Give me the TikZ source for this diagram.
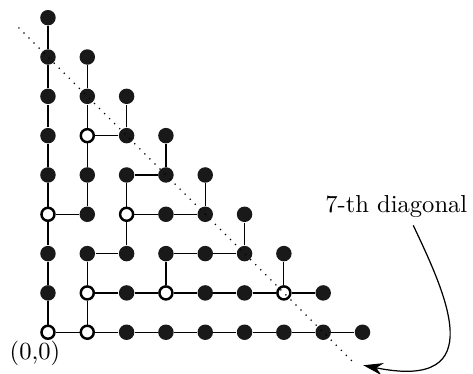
\documentclass[tikz,border=0pt]{standalone}
\usepackage{tikz}
\usetikzlibrary{arrows.meta}
\tikzset{
  dot/.style={circle, fill=black!90, inner sep=0pt, minimum size=6.3pt},
  hollow/.style={circle, draw=black, fill=white, line width=1pt, inner sep=0pt, minimum size=5.3pt},
  pt00/.style={hollow}, pt10/.style={hollow}, pt11/.style={hollow}, pt31/.style={hollow},
  pt61/.style={hollow}, pt03/.style={hollow}, pt23/.style={hollow}, pt15/.style={hollow},
  edge/.style={line width=0.5pt}
}

\begin{document}
\begin{tikzpicture}[x=0.5625cm, y=0.5625cm]
		%%%%% START %%%%%
		\useasboundingbox (-1.22, -1.04) rectangle (10.81, 8.45);
		
		\foreach \i in {0,...,8} {
			\foreach \j in {0,...,8} {
				\pgfmathtruncatemacro\s{\i+\j}
				\ifnum\s<9
					\node[dot, pt\i\j/.try] (p\i\j) at (\i, \j) {};
				\fi
			}
		}
		
		\draw[edge] (p00) -- (p01) -- (p02) -- (p03) -- (p04) -- (p05) -- (p06) -- (p07) -- (p08);
		\draw[edge] (p00) -- (p10) -- (p20) -- (p30) -- (p40) -- (p50) -- (p60) -- (p70) -- (p80);
		\draw[edge] (p03) -- (p13) -- (p14) -- (p15) -- (p16) -- (p17);
		\draw[edge] (p10) -- (p11) -- (p12) -- (p22) -- (p23) -- (p33) -- (p43) -- (p44);
		\draw[edge] (p23) -- (p24) -- (p34) -- (p35);
		\draw[edge] (p15) -- (p25) -- (p26);
		\draw[edge] (p11) -- (p21) -- (p31) -- (p41) -- (p51) -- (p61) -- (p71);
		\draw[edge] (p31) -- (p32) -- (p42) -- (p52) -- (p53);
		\draw[edge] (p61) -- (p62);
		
		\coordinate (d1) at (-0.75, 7.75);
		\coordinate (d2) at (7.75, -0.75);
		\draw[black, line width=0.5pt, dash pattern=on 0.5pt off 2.4pt] (d1) -- (d2);
		
		\node (origin) at (-0.33, -0.53) {(0,0)};
		\node (diag) at (8.86, 3.21) {7-th diagonal};
		
		\coordinate (tail) at (9.29, 2.72);
		\coordinate (head) at (8.02, -0.84);
		\draw[line width=0.5pt, -{Stealth[length=8pt, width=5pt]}] (tail) .. controls (10.1, 1.0) and (11.3, -1.5) .. (head);
		%%%%% END %%%%%
\end{tikzpicture}
\end{document}
